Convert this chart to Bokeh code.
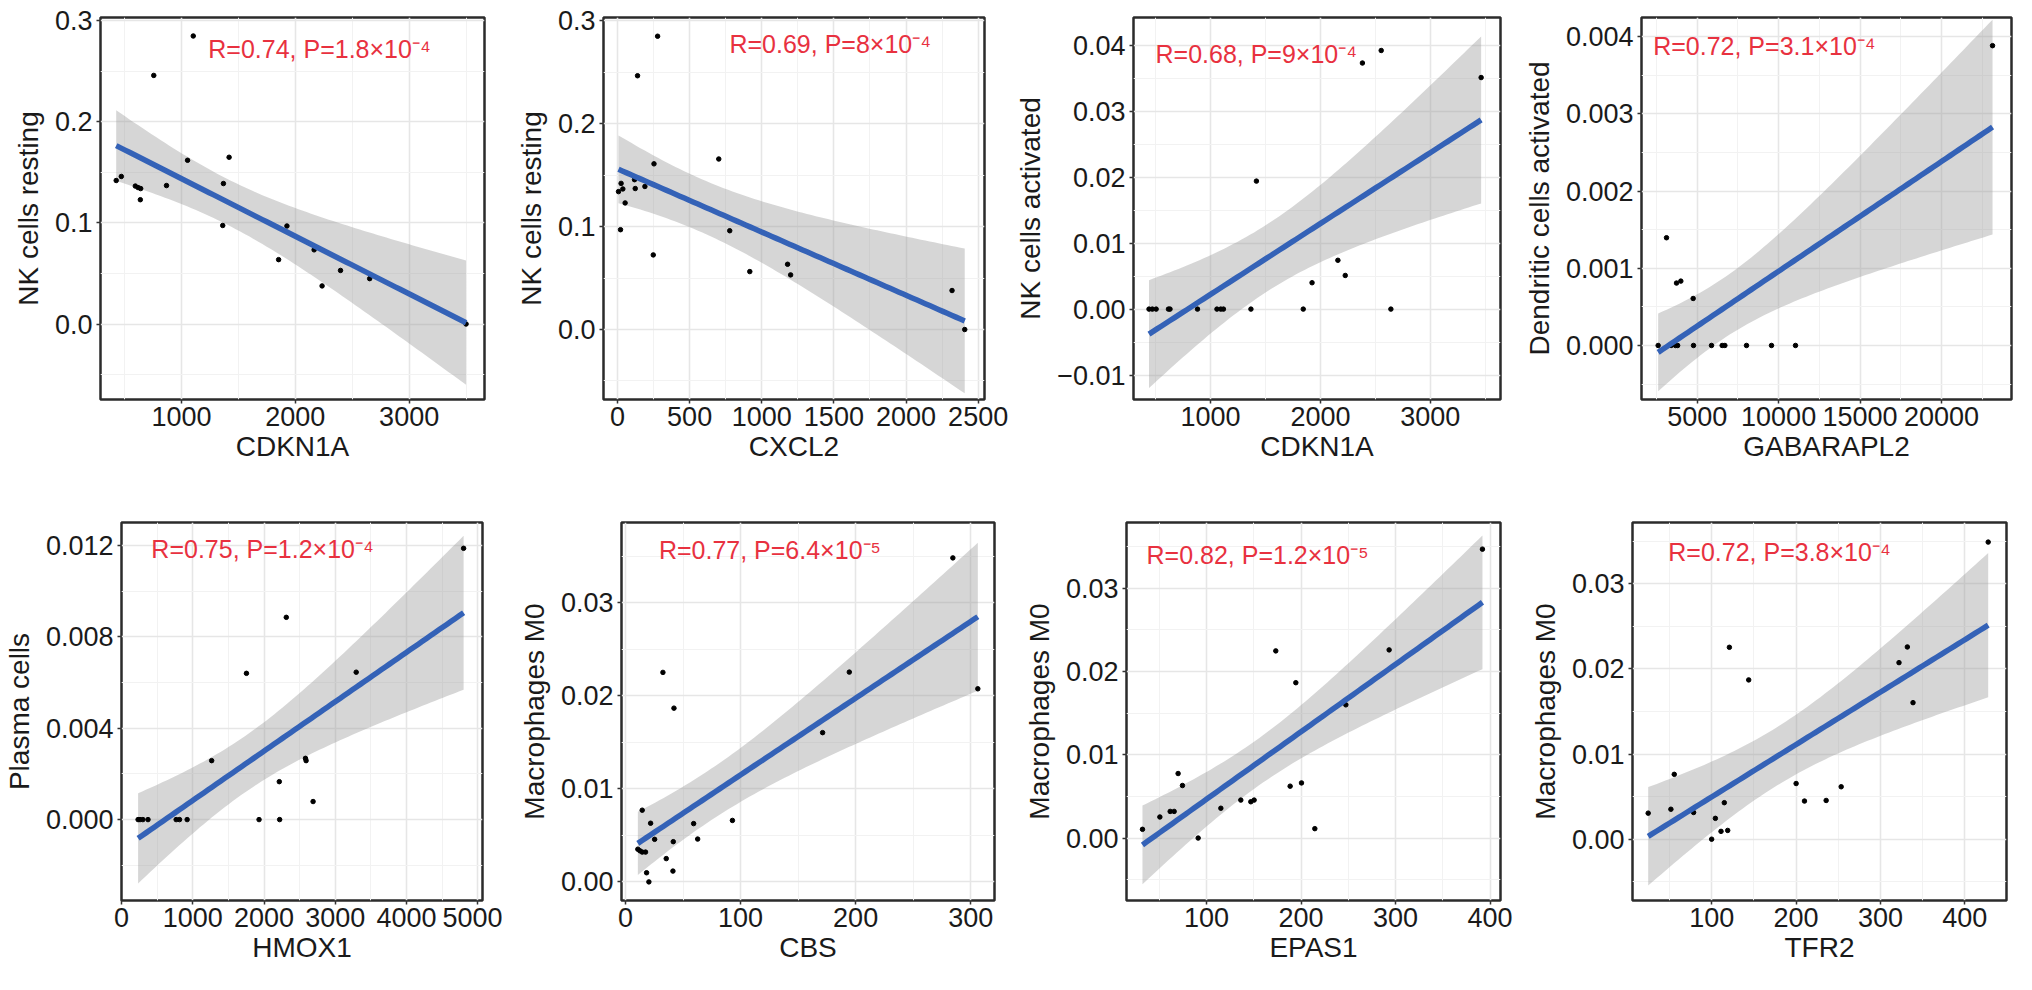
import numpy as np

from bokeh.embed import file_html
from bokeh.layouts import column, row
from bokeh.models import FixedTicker, Label, Range1d
from bokeh.plotting import figure
from bokeh.resources import INLINE

# ---- data ----
cdkn1a_a = [426, 471, 594, 618, 641, 638, 756, 868, 1053, 1103, 1362, 1368, 1418,
            1853, 1926, 2165, 2235, 2397, 2653, 3500]
nk_resting_a = [0.142, 0.146, 0.1365, 0.135, 0.134, 0.123, 0.246, 0.137, 0.162, 0.285,
                0.0975, 0.139, 0.165, 0.0637, 0.097, 0.0734, 0.0377, 0.053, 0.0449, 0.0]

cxcl2 = [7, 25, 37, 21, 53, 123, 139, 118, 190, 253, 248, 278, 702, 778, 917, 1179,
         1200, 2319, 2407]
nk_resting_b = [0.134, 0.142, 0.1366, 0.097, 0.123, 0.137, 0.2466, 0.1456, 0.139, 0.161,
                0.0725, 0.285, 0.1657, 0.096, 0.0563, 0.0634, 0.0531, 0.0379, 0.0]

cdkn1a_b = [441, 471, 506, 618, 632, 882, 1059, 1094, 1118, 1368, 1844, 2641, 1418,
            1924, 2159, 2226, 2382, 2553, 3462]
nk_activated = [0, 0, 0, 0, 0, 0, 0, 0, 0, 0, 0, 0, 0.0194, 0.004, 0.0074, 0.0051,
                0.0373, 0.0392, 0.0351]

gabarapl2 = [2605, 3117, 3400, 3670, 3731, 3800, 3997, 4754, 4775, 5880, 6535, 6699,
             8029, 9564, 11037, 23134]
dc_activated = [0, 0.001396, 0, 0, 0.000809, 0, 0.000834, 0.000609, 0, 0, 0, 0, 0, 0,
                0, 0.003885]

hmox1 = [233, 260, 300, 372, 767, 814, 921, 1265, 1753, 1930, 2214, 2219, 2312, 2581,
         2590, 2688, 3293, 4800]
plasma = [0, 0, 0, 0, 0, 0, 0, 0.00258, 0.0064, 0, 0.00166, 0, 0.00885, 0.00268,
          0.00258, 0.00079, 0.00645, 0.01187]

cbs = [10.7, 12.5, 14.5, 17.4, 14.5, 18.3, 20.3, 21.8, 25.3, 32.5, 35.4, 41.5, 41.2,
       42.1, 59.2, 62.7, 92.9, 171.3, 194.5, 284.5, 306.2]
m0_a = [0.00351, 0.00334, 0.0032, 0.0032, 0.0077, 0.00098, 0.0, 0.0063, 0.00457, 0.0225,
        0.0025, 0.00432, 0.00116, 0.01866, 0.00626, 0.0046, 0.0066, 0.01603, 0.02253,
        0.0348, 0.02074]

epas1 = [32.3, 50.7, 61.6, 65.8, 70, 74.6, 91.2, 115.2, 136.3, 146.9, 150.4, 173.3,
         188.5, 194.5, 200.5, 214.6, 247.4, 293.2, 391.9]
m0_b = [0.00105, 0.00253, 0.0032, 0.0032, 0.00775, 0.00631, 0, 0.00358, 0.00456, 0.00436,
        0.00456, 0.02248, 0.00623, 0.01866, 0.00662, 0.00113, 0.016, 0.0226, 0.0347]

tfr2 = [24.8, 51.7, 55.7, 78.6, 100, 104.4, 111.1, 119, 115, 121, 143.9, 200.1, 210,
        235.7, 253.5, 322, 331.9, 338.6, 427.7]
m0_c = [0.00306, 0.00352, 0.00762, 0.00314, 0, 0.00245, 0.00092, 0.00103, 0.00429,
        0.02254, 0.01871, 0.00654, 0.00448, 0.00455, 0.00616, 0.02074, 0.02258, 0.01604,
        0.0349]

x_names = ["CDKN1A", "CXCL2", "CDKN1A", "GABARAPL2", "HMOX1", "CBS", "EPAS1", "TFR2"]
y_names = ["NK cells resting", "NK cells resting", "NK cells activated",
           "Dendritic cells activated", "Plasma cells", "Macrophages M0",
           "Macrophages M0", "Macrophages M0"]
stats = ["R=0.74, P=1.8×10⁻⁴", "R=0.69, P=8×10⁻⁴", "R=0.68, P=9×10⁻⁴",
         "R=0.72, P=3.1×10⁻⁴", "R=0.75, P=1.2×10⁻⁴", "R=0.77, P=6.4×10⁻⁵",
         "R=0.82, P=1.2×10⁻⁵", "R=0.72, P=3.8×10⁻⁴"]
stat_x = [1235, 776, 500, 2298, 419, 29, 36.6, 48.6]
stat_y = [0.2717, 0.2773, 0.0387, 0.003885, 0.01184, 0.0356, 0.034, 0.03375]

x_limits = [(288, 3662), (-97, 2544), (300, 3638), (1582, 24298), (0, 5065),
            (-3.5, 320.7), (15.4, 411), (6.2, 449.4)]
y_limits = [(-0.0747, 0.3033), (-0.068, 0.3032), (-0.0137, 0.0442), (-0.0007, 0.00425),
            (-0.00354, 0.0130), (-0.002, 0.0386), (-0.0075, 0.0379), (-0.0072, 0.0372)]

x_ticks = [[1000, 2000, 3000], [0, 500, 1000, 1500, 2000, 2500], [1000, 2000, 3000],
           [5000, 10000, 15000, 20000], [0, 1000, 2000, 3000, 4000, 5000],
           [0, 100, 200, 300], [100, 200, 300, 400], [100, 200, 300, 400]]
y_ticks = [[0.0, 0.1, 0.2, 0.3], [0.0, 0.1, 0.2, 0.3],
           [-0.01, 0.0, 0.01, 0.02, 0.03, 0.04], [0.0, 0.001, 0.002, 0.003, 0.004],
           [0.0, 0.004, 0.008, 0.012], [0.0, 0.01, 0.02, 0.03],
           [0.0, 0.01, 0.02, 0.03], [0.0, 0.01, 0.02, 0.03]]
y_tick_labels = [["0.0", "0.1", "0.2", "0.3"], ["0.0", "0.1", "0.2", "0.3"],
                 ["\u22120.01", "0.00", "0.01", "0.02", "0.03", "0.04"],
                 ["0.000", "0.001", "0.002", "0.003", "0.004"],
                 ["0.000", "0.004", "0.008", "0.012"], ["0.00", "0.01", "0.02", "0.03"],
                 ["0.00", "0.01", "0.02", "0.03"], ["0.00", "0.01", "0.02", "0.03"]]

series = [(cdkn1a_a, nk_resting_a), (cxcl2, nk_resting_b), (cdkn1a_b, nk_activated),
          (gabarapl2, dc_activated), (hmox1, plasma), (cbs, m0_a), (epas1, m0_b),
          (tfr2, m0_c)]

# figure geometry: (width, height, left, right, top, bottom)
geometry = [(502, 482, 100, 18, 14, 80), (510, 482, 101, 28, 17, 83),
            (508, 482, 110, 20, 7, 82), (496, 482, 120, 5, 15, 80),
            (502, 490, 118, 20, 40, 72), (510, 490, 119, 18, 37, 68),
            (508, 490, 114, 20, 33, 68), (496, 490, 112, 10, 35, 68)]

FONT = "Liberation Sans"
T95 = {14: 2.145, 15: 2.131, 16: 2.120, 17: 2.110, 18: 2.101, 19: 2.093, 20: 2.086}


def minors(ticks, lo, hi):
    step = ticks[1] - ticks[0]
    out = []
    m = ticks[0] - step / 2
    while m > lo:
        m -= step
    while m <= hi:
        if m >= lo:
            out.append(m)
        m += step
    return out


def lm_band(xs, ys):
    x = np.asarray(xs, float)
    y = np.asarray(ys, float)
    n = len(x)
    b, a = np.polyfit(x, y, 1)
    resid = y - (a + b * x)
    s = np.sqrt(np.sum(resid ** 2) / (n - 2))
    sxx = np.sum((x - x.mean()) ** 2)
    grid = np.linspace(x.min(), x.max(), 80)
    fit = a + b * grid
    se = s * np.sqrt(1.0 / n + (grid - x.mean()) ** 2 / sxx)
    t = T95.get(n - 2, 2.1)
    return grid, fit, fit - t * se, fit + t * se


def make_panel(i):
    xs, ys = series[i]
    w, h, bl, br, bt, bb = geometry[i]
    p = figure(width=w, height=h, toolbar_location=None, output_backend="svg",
               x_range=Range1d(*x_limits[i]), y_range=Range1d(*y_limits[i]),
               min_border_left=bl, min_border_right=br, min_border_top=bt,
               min_border_bottom=bb, background_fill_color="white",
               border_fill_color="white")
    p.outline_line_color = "#2b2b2b"
    p.outline_line_width = 2.5

    p.xaxis.ticker = FixedTicker(ticks=x_ticks[i],
                                 minor_ticks=minors(x_ticks[i], *x_limits[i]))
    p.yaxis.ticker = FixedTicker(ticks=y_ticks[i],
                                 minor_ticks=minors(y_ticks[i], *y_limits[i]))
    p.yaxis.major_label_overrides = dict(zip(y_ticks[i], y_tick_labels[i]))
    p.xaxis.major_label_overrides = {t: str(t) for t in x_ticks[i]}

    for ax in (p.xaxis, p.yaxis):
        ax.axis_line_color = None
        ax.major_tick_line_color = "#333333"
        ax.major_tick_line_width = 1.5
        ax.major_tick_in = 0
        ax.major_tick_out = 4
        ax.minor_tick_line_color = None
        ax.major_label_text_font = FONT
        ax.major_label_text_font_size = "27px"
        ax.major_label_text_color = "#1a1a1a"
        ax.axis_label_text_font = FONT
        ax.axis_label_text_font_size = "28px"
        ax.axis_label_text_font_style = "normal"
        ax.axis_label_text_color = "#1a1a1a"
    p.xaxis.major_label_standoff = 3
    p.xaxis.axis_label_standoff = 2
    p.yaxis.major_label_standoff = 4
    p.yaxis.axis_label_standoff = 8
    p.xaxis.axis_label = x_names[i]
    p.yaxis.axis_label = y_names[i]

    p.grid.grid_line_color = "#e6e6e6"
    p.grid.grid_line_width = 1.6
    p.grid.minor_grid_line_color = "#f2f2f2"
    p.grid.minor_grid_line_width = 1.0

    grid, fit, lo, hi = lm_band(xs, ys)
    p.varea(x=grid, y1=lo, y2=hi, fill_color="#999999", fill_alpha=0.4)
    p.scatter(xs, ys, size=4.5, color="black")
    p.line(grid, fit, line_color="#3462b7", line_width=5.5)

    p.add_layout(Label(x=stat_x[i], y=stat_y[i], text=stats[i], text_font=FONT,
                       text_font_size="25px", text_color="#e8313f",
                       text_align="left", text_baseline="middle"))
    return p


panels = [make_panel(i) for i in range(8)]
layout = column(row(*panels[:4]), row(*panels[4:]))

open("out.html", "w").write(file_html(layout, INLINE))
